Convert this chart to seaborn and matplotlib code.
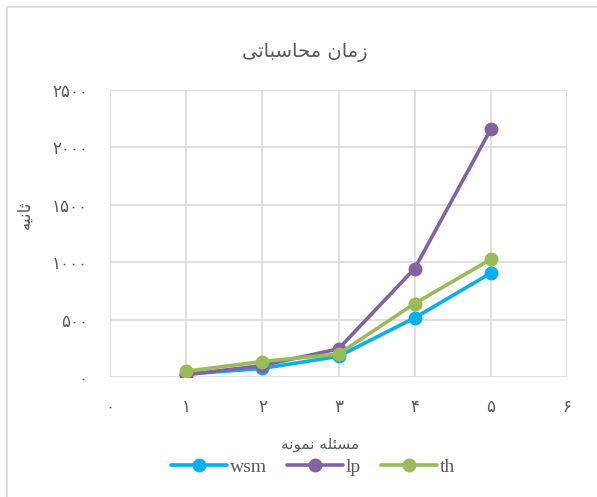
import matplotlib
matplotlib.use("Agg")
import matplotlib.pyplot as plt
from matplotlib.patches import Rectangle
from matplotlib.lines import Line2D
import seaborn as sns
import pandas as pd

# Sample problems (x) and computation time in seconds for each method
problems = [1, 2, 3, 4, 5]
wsm = [25, 75, 180, 515, 905]
lp = [20, 100, 245, 945, 2160]
th = [50, 135, 200, 640, 1025]

series_names = ["wsm", "lp", "th"]
series_colors = ["#00B0F0", "#8064A2", "#9BBB59"]

x_ticks = [0, 1, 2, 3, 4, 5, 6]
y_ticks = [0, 500, 1000, 1500, 2000, 2500]

title_text = "زمان محاسباتی"
x_label = "مسئله نمونه"
y_label = "ثانیه"

# Contextual forms (isolated, final, initial, medial) for the Arabic letters used
FORMS = {
    "ا": (0xFE8D, 0xFE8E, None, None),
    "ب": (0xFE8F, 0xFE90, 0xFE91, 0xFE92),
    "ت": (0xFE95, 0xFE96, 0xFE97, 0xFE98),
    "ث": (0xFE99, 0xFE9A, 0xFE9B, 0xFE9C),
    "ح": (0xFEA1, 0xFEA2, 0xFEA3, 0xFEA4),
    "ز": (0xFEAF, 0xFEB0, None, None),
    "س": (0xFEB1, 0xFEB2, 0xFEB3, 0xFEB4),
    "ئ": (0xFE89, 0xFE8A, 0xFE8B, 0xFE8C),
    "ل": (0xFEDD, 0xFEDE, 0xFEDF, 0xFEE0),
    "م": (0xFEE1, 0xFEE2, 0xFEE3, 0xFEE4),
    "ن": (0xFEE5, 0xFEE6, 0xFEE7, 0xFEE8),
    "ه": (0xFEE9, 0xFEEA, 0xFEEB, 0xFEEC),
    "و": (0xFEED, 0xFEEE, None, None),
    "ی": (0xFEEF, 0xFEF0, 0xFEF3, 0xFEF4),
}


def shape_rtl(text):
    """Join Arabic letters into their contextual forms and order them for LTR drawing."""
    out = []
    for i, ch in enumerate(text):
        if ch not in FORMS:
            out.append(ch)
            continue
        prev = text[i - 1] if i > 0 else None
        nxt = text[i + 1] if i + 1 < len(text) else None
        join_prev = prev in FORMS and FORMS[prev][2] is not None
        join_next = nxt in FORMS and FORMS[ch][2] is not None
        iso, fin, ini, med = FORMS[ch]
        if join_prev and join_next:
            code = med
        elif join_prev:
            code = fin
        elif join_next:
            code = ini
        else:
            code = iso
        out.append(chr(code))
    return "".join(out)[::-1]


def persian_digits(n):
    return "".join(chr(0x06F0 + int(d)) for d in str(n))


df = pd.DataFrame({
    "problem": problems * 3,
    "seconds": wsm + lp + th,
    "method": ["wsm"] * len(problems) + ["lp"] * len(problems) + ["th"] * len(problems),
})

sns.set_theme(style="white")
plt.rcParams["font.family"] = ["DejaVu Sans"]

fig = plt.figure(figsize=(5.97, 4.97), dpi=100)
ax = fig.add_axes([110 / 597, 1 - 377 / 497, (567 - 110) / 597, (377 - 90) / 497])

grid_color = "#D9D9D9"
text_color = "#595959"

sns.lineplot(
    data=df, x="problem", y="seconds", hue="method",
    hue_order=series_names, palette=series_colors,
    marker="o", markersize=10, markeredgewidth=0, linewidth=2.6,
    legend=False, ax=ax,
)

ax.set_xlim(0, 6)
ax.set_ylim(0, 2500)
ax.set_xticks(x_ticks)
ax.set_yticks(y_ticks)
ax.set_xticklabels([persian_digits(v) for v in x_ticks])
ax.set_yticklabels([persian_digits(v) for v in y_ticks])
ax.tick_params(axis="both", length=0, labelsize=12, labelcolor=text_color)
ax.tick_params(axis="x", pad=15)
ax.tick_params(axis="y", pad=16)
ax.grid(True, color=grid_color, linewidth=1.1)
ax.set_axisbelow(True)
for side in ["top", "right", "left", "bottom"]:
    ax.spines[side].set_visible(False)
ax.set_xlabel("")
ax.set_ylabel("")

fig.text(305 / 597, 1 - 52 / 497, shape_rtl(title_text), ha="center", va="center",
         fontsize=14, color=text_color)
fig.text(25 / 597, 1 - 215 / 497, shape_rtl(y_label), ha="center", va="center",
         rotation=90, fontsize=12, color=text_color)
fig.text(320 / 597, 1 - 445 / 497, shape_rtl(x_label), ha="center", va="center",
         fontsize=11, color=text_color)

handles = [
    Line2D([0], [0], color=c, linewidth=2.6, marker="o", markersize=10, markeredgewidth=0)
    for c in series_colors
]
fig.legend(handles, series_names, loc="center", bbox_to_anchor=(313 / 597, 1 - 467 / 497),
           ncol=3, frameon=False, handlelength=2.9, handletextpad=0.15, columnspacing=1.0,
           prop={"family": "Liberation Serif", "size": 14}, labelcolor=text_color)

fig.patches.append(Rectangle((7 / 597, -0.1), 1.2, 1 - 7 / 497 + 0.1, transform=fig.transFigure,
                             fill=False, edgecolor=grid_color, linewidth=1.2))

fig.savefig("out.png", dpi=100, facecolor="white")
